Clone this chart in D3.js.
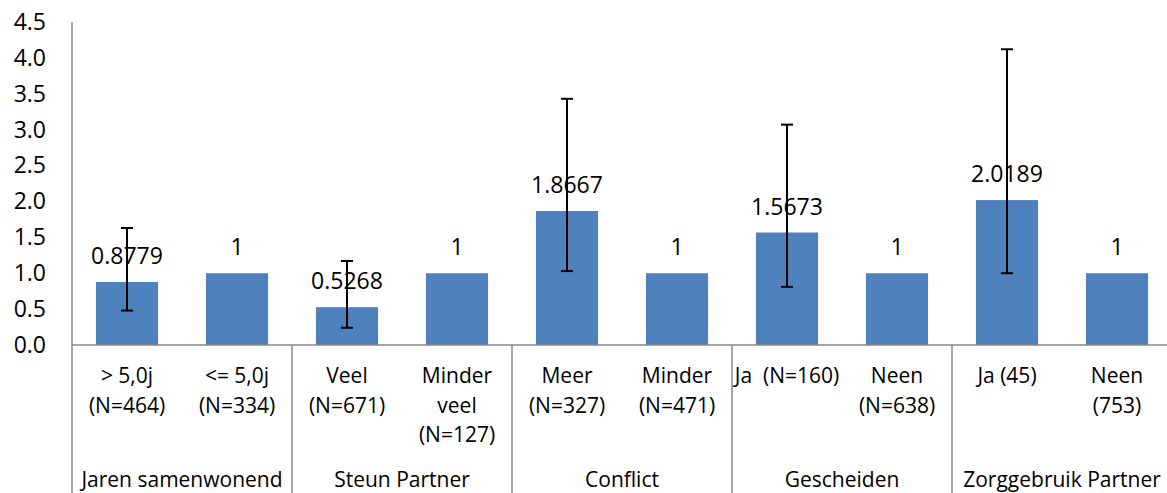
<!DOCTYPE html>
<html><head><meta charset="utf-8">
<script src="https://cdn.jsdelivr.net/npm/d3@7"></script>
<style>body{margin:0;background:#fff;overflow:hidden}svg{display:block}text{font-family:"Open Sans",sans-serif;fill:#000}</style>
</head><body><svg id="c" width="1167" height="493"></svg>
<script>
const categories = [
  ["> 5,0j","(N=464)"], ["<= 5,0j","(N=334)"],
  ["Veel","(N=671)"], ["Minder","veel","(N=127)"],
  ["Meer","(N=327)"], ["Minder","(N=471)"],
  ["Ja  (N=160)"], ["Neen","(N=638)"],
  ["Ja (45)"], ["Neen","(753)"]
];
const groups = ["Jaren samenwonend","Steun Partner","Conflict","Gescheiden","Zorggebruik Partner"];
const values = [0.8779, 1, 0.5268, 1, 1.8667, 1, 1.5673, 1, 2.0189, 1];
const valueLabels = ["0.8779","1","0.5268","1","1.8667","1","1.5673","1","2.0189","1"];
const ciLow  = [0.48, null, 0.24, null, 1.03, null, 0.81, null, 1.00, null];
const ciHigh = [1.63, null, 1.17, null, 3.43, null, 3.07, null, 4.12, null];
const yTicks = [0,0.5,1,1.5,2,2.5,3,3.5,4,4.5];

(function(){
const svg = d3.select("#c");
const pLeft = 72, pRight = 1172, pTop = 22, pBase = 345;
const x = d3.scaleBand().domain(d3.range(values.length)).range([pLeft,pRight]).paddingInner(0.435).paddingOuter(0.2175);
const y = d3.scaleLinear().domain([0,4.5]).range([pBase,pTop]);
const gx = d3.scaleBand().domain(d3.range(groups.length)).range([pLeft,pRight]);

svg.selectAll("rect.bar").data(values).join("rect")
  .attr("x",(d,i)=>x(i)).attr("width",x.bandwidth())
  .attr("y",d=>y(d)).attr("height",d=>y(0)-y(d))
  .attr("fill","#4F81BD");

const yAxis = d3.axisLeft(y).tickValues(yTicks).tickFormat(d3.format(".1f")).tickSize(0).tickPadding(26);
const ya = svg.append("g").attr("transform",`translate(${pLeft},0)`).call(yAxis);
ya.select(".domain").remove();
ya.selectAll("text").attr("font-size",23).attr("font-family","Open Sans").attr("fill","#000");

const axisColor = "#888";
svg.append("line").attr("x1",pLeft).attr("x2",pLeft).attr("y1",pTop).attr("y2",493).attr("stroke",axisColor).attr("stroke-width",1.5);
svg.append("line").attr("x1",pLeft).attr("x2",pRight).attr("y1",pBase).attr("y2",pBase).attr("stroke",axisColor).attr("stroke-width",1.5);
svg.selectAll("line.sep").data(d3.range(1,groups.length+1)).join("line")
  .attr("x1",d=>gx(d-1)+gx.bandwidth()).attr("x2",d=>gx(d-1)+gx.bandwidth())
  .attr("y1",pBase).attr("y2",493).attr("stroke",axisColor).attr("stroke-width",1.5);

const cx = i => x(i)+x.bandwidth()/2;
const eb = svg.append("g").attr("stroke","#000").attr("stroke-width",2);
values.forEach((v,i)=>{
  if(ciLow[i]==null) return;
  eb.append("line").attr("x1",cx(i)).attr("x2",cx(i)).attr("y1",y(ciLow[i])).attr("y2",y(ciHigh[i]));
  [ciLow[i],ciHigh[i]].forEach(c=>eb.append("line").attr("x1",cx(i)-6).attr("x2",cx(i)+6).attr("y1",y(c)).attr("y2",y(c)));
});

svg.selectAll("text.val").data(values).join("text")
  .attr("x",(d,i)=>cx(i)).attr("y",d=>y(d)-18)
  .attr("text-anchor","middle").attr("font-size",23).text((d,i)=>valueLabels[i]);

categories.forEach((lines,i)=>{
  lines.forEach((t,j)=>{
    svg.append("text").attr("x",cx(i)).attr("y",376+j*29.5).attr("dy","0.35em")
      .attr("text-anchor","middle").attr("font-size",21).style("white-space","pre").text(t);
  });
});
svg.selectAll("text.grp").data(groups).join("text")
  .attr("x",(d,i)=>gx(i)+gx.bandwidth()/2).attr("y",480).attr("dy","0.35em")
  .attr("text-anchor","middle").attr("font-size",21).text(d=>d);
})();
</script></body></html>
